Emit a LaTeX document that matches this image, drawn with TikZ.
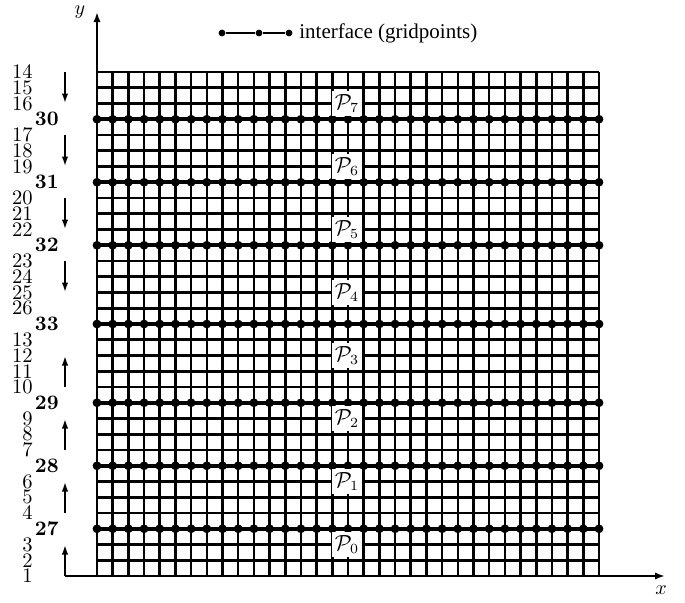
\documentclass[tikz,border=0pt]{standalone}
\usepackage{fontspec}
\newfontfamily\legendfont{Liberation Serif}
\usetikzlibrary{arrows.meta}
\begin{document}
\begin{tikzpicture}[x=0.5pt,y=-0.5pt,
  gridline/.style={line width=1.3pt},
  iface/.style={line width=1.8pt},
  gpt/.style={circle,fill=black,inner sep=0pt,minimum size=4.4pt},
  lpt/.style={circle,fill=black,inner sep=0pt,minimum size=3.4pt},
  axis/.style={line width=1pt,-{Latex[length=5pt,width=3.6pt]}},
  dirarrow/.style={line width=1pt,-{Latex[length=5pt,width=3.2pt]}},
  numlab/.style={anchor=east,inner sep=0pt,font=\fontsize{10.3}{10}\selectfont},
  boldlab/.style={anchor=east,inner sep=0pt,font=\fontsize{10.3}{10}\selectfont\bfseries},
  plab/.style={fill=white,inner sep=1.5pt,font=\fontsize{10.5}{11}\selectfont}]
\useasboundingbox (0,0) rectangle (685,602);
% grid
\foreach \k in {0,...,32} \draw[gridline] ({97+15.6875*\k},72) -- ({97+15.6875*\k},576);
\foreach \j in {0,...,32} \draw[gridline] (97,{576-15.75*\j}) -- (599,{576-15.75*\j});
% interfaces with gridpoints
\foreach \j in {3,7,11,16,21,25,29} {
  \draw[iface] (97,{576-15.75*\j}) -- (599,{576-15.75*\j});
  \foreach \k in {0,...,32} \node[gpt] (g\j-\k) at ({97+15.6875*\k},{576-15.75*\j}) {};
}
% axes
\coordinate (xs) at (65,576);
\coordinate (xe) at (665,576);
\coordinate (ys) at (97,576);
\coordinate (ye) at (97,12);
\draw[axis] (xs) -- (xe);
\draw[axis] (ys) -- (ye);
\node[inner sep=1pt] (ylab) at (80,12) {$y$};
\node[inner sep=1pt] (xlab) at (661,590) {$x$};
% row labels
\foreach \j/\t in {0/1,1/2,2/3,4/4,5/5,6/6,8/7,9/8,10/9,12/10,13/11,14/12,15/13,17/26,18/25,19/24,20/23,22/22,23/21,24/20,26/19,27/18,28/17,30/16,31/15,32/14}
  \node[numlab] (n\t) at (33,{576-15.75*\j}) {\t};
\foreach \j/\t in {3/27,7/28,11/29,16/33,21/32,25/31,29/30}
  \node[boldlab] (b\t) at (59,{576-15.75*\j}) {\t};
% direction arrows
\foreach \a/\b in {32/30,28/26,24/22,20/18,0/2,4/6,8/10,12/14} {
  \coordinate (as\a) at (65,{576-15.75*\a});
  \coordinate (ae\a) at (65,{576-15.75*\b});
  \draw[dirarrow] (as\a) -- (ae\a);
}
% processor labels
\foreach \i in {0,...,7}
  \node[plab] (p\i) at (347,{576-15.75*(2+4*\i)}) {$\mathcal{P}_{\i}$};
% legend
\node[lpt] (l1) at (222,33) {};
\node[lpt] (l2) at (259,33) {};
\node[lpt] (l3) at (289,33) {};
\draw[line width=1.2pt] (l1) -- (l2) -- (l3);
\node[anchor=base west,inner sep=0pt,font=\legendfont\fontsize{10.5}{11}\selectfont] (leg) at (299,38) {interface (gridpoints)};
\end{tikzpicture}
\end{document}
